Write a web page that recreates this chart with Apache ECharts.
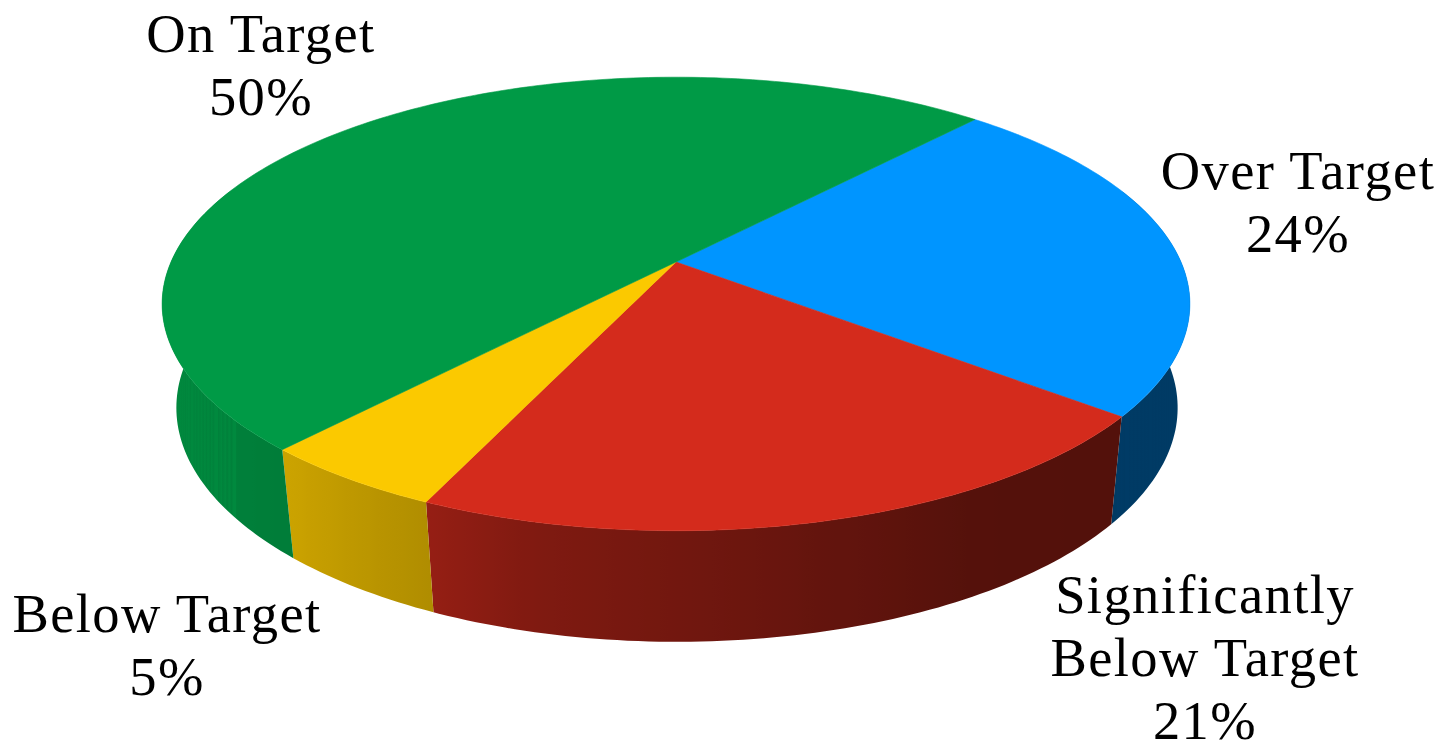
<!DOCTYPE html>
<html>
<head>
<meta charset="utf-8">
<style>
html,body{margin:0;padding:0;background:#fff}
#chart{width:1448px;height:741px}
#chart text{letter-spacing:1.4px}
</style>
<script src="https://cdn.jsdelivr.net/npm/echarts@6/dist/echarts.min.js"></script>
</head>
<body>
<div id="chart"></div>
<script>
// Share of results per category, clockwise from the top-right slice.
const categories = ['Over Target', 'Significantly\nBelow Target', 'Below Target', 'On Target'];
const shares = [24, 21, 5, 50];
const topColors = ['#0095ff', '#d42b1c', '#fbc900', '#009a46'];

// Label centres (first line), one per category.
const labelCentres = [[1298, 170], [1205, 594], [167, 613], [261, 33]];

// Perspective projection of the pie's two discs.
const START_ANGLE = 42.3;
const PERSPECTIVE = 0.185;
const TOP_DISC = { cx: 676, cy: 262, ax: 505, ay: 219 };
const BASE_DISC = { cx: 677, cy: 364.5, ax: 492, ay: 226 };
const ARC_STEP = 1;
const LINE_HEIGHT = 63;

// Brightness of the side wall by angle, [degrees, factor].
const wallShade = [[60, 0.40], [130, 0.39], [150, 0.40], [166, 0.47], [180, 0.54], [193, 0.60], [204, 0.70], [222, 0.81], [260, 0.89], [300, 0.89]];

function project(disc, deg, r) {
  const a = deg * Math.PI / 180;
  const u = Math.sin(a) * r, v = -Math.cos(a) * r;
  const w = 1 - PERSPECTIVE * v;
  return [disc.cx + disc.ax * u / w, disc.cy + disc.ay * v / w];
}

function shadeAt(deg) {
  for (let i = 1; i < wallShade.length; i++) {
    const [a0, f0] = wallShade[i - 1], [a1, f1] = wallShade[i];
    if (deg <= a1) return f0 + (f1 - f0) * (deg - a0) / (a1 - a0);
  }
  return wallShade[wallShade.length - 1][1];
}

function scaled(hex, f) {
  const n = parseInt(hex.slice(1), 16);
  const c = s => Math.round(((n >> s) & 255) * f);
  return `rgb(${c(16)},${c(8)},${c(0)})`;
}

const total = shares.reduce((a, b) => a + b, 0);
function sliceSpan(index) {
  let before = 0;
  for (let i = 0; i < index; i++) before += shares[i];
  const from = START_ANGLE + before / total * 360;
  return [from, from + shares[index] / total * 360];
}

// One wall polygon per slice, shaded by a left-to-right gradient following the angle.
function renderWalls(params) {
  const [from, to] = sliceSpan(params.dataIndex);
  const start = Math.max(from, 70), end = Math.min(to, 290);
  if (start >= end) return { type: 'group', children: [] };
  const upper = [], lower = [], samples = [];
  for (let d = start; ; d = Math.min(d + ARC_STEP, end)) {
    const a = project(TOP_DISC, d, 1), b = project(BASE_DISC, d, 1);
    upper.push(a);
    lower.push(b);
    samples.push({ x: (a[0] + b[0]) / 2, deg: d });
    if (d >= end) break;
  }
  const xs = samples.map(s => s.x);
  const x0 = Math.min(...xs), x1 = Math.max(...xs);
  const color = topColors[params.dataIndex];
  const stops = samples
    .map(s => ({ offset: (s.x - x0) / (x1 - x0), color: scaled(color, shadeAt(s.deg)) }))
    .sort((p, q) => p.offset - q.offset);
  const fill = new echarts.graphic.LinearGradient(x0, 0, x1, 0, stops, true);
  return {
    type: 'polygon',
    shape: { points: upper.concat(lower.reverse()) },
    style: { fill }
  };
}

function renderTop(params, api) {
  const [from, to] = sliceSpan(params.dataIndex);
  const color = topColors[params.dataIndex];
  const points = [project(TOP_DISC, 0, 0)];
  for (let d = from; d < to; d += ARC_STEP) points.push(project(TOP_DISC, d, 1));
  points.push(project(TOP_DISC, to, 1));
  const [lx, ly] = labelCentres[params.dataIndex];
  const lines = (categories[params.dataIndex] + '\n' + api.value(0) + '%').split('\n');
  return {
    type: 'group',
    children: [{ type: 'polygon', shape: { points }, style: { fill: color, stroke: color, lineWidth: 0.6 } }]
      .concat(lines.map((text, i) => ({
        type: 'text',
        style: {
          text, x: lx, y: ly + i * LINE_HEIGHT,
          fill: '#000',
          font: '54.5px "Liberation Serif"',
          align: 'center', verticalAlign: 'middle'
        }
      })))
  };
}

const chart = echarts.init(document.getElementById('chart'), null, { renderer: 'svg' });
chart.setOption({
  animation: false,
  backgroundColor: '#fff',
  series: [
    { type: 'custom', coordinateSystem: 'none', z: 1, silent: true, renderItem: renderWalls, data: shares.map(v => [v]) },
    { type: 'custom', coordinateSystem: 'none', z: 2, silent: true, renderItem: renderTop, data: shares.map(v => [v]) }
  ]
});
</script>
</body>
</html>
